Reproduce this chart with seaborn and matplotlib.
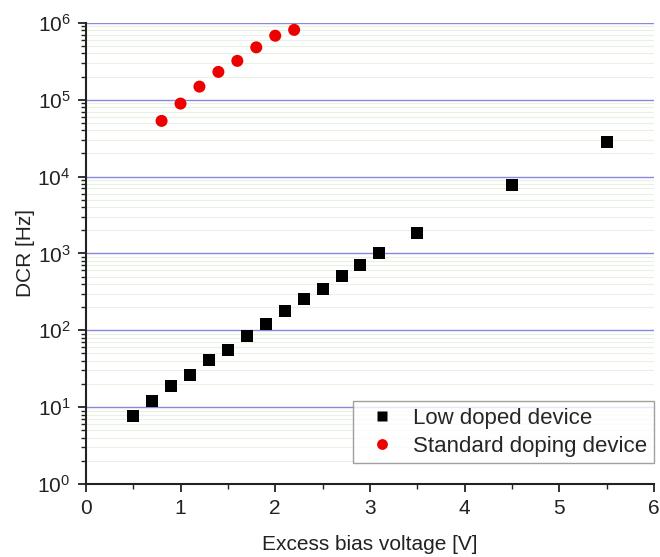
import matplotlib
matplotlib.use("Agg")
import matplotlib.pyplot as plt
import seaborn as sns
import pandas as pd
import numpy as np
from matplotlib.ticker import LogLocator, MultipleLocator, NullFormatter

low_x = [0.5, 0.7, 0.9, 1.1, 1.3, 1.5, 1.7, 1.9, 2.1, 2.3, 2.5, 2.7, 2.9, 3.1, 3.5, 4.5, 5.5]
low_y = [7.7, 12.0, 19, 26, 41, 56, 85, 121, 179, 257, 346, 510, 710, 1000, 1860, 7800, 28000]
std_x = [0.8, 1.0, 1.2, 1.4, 1.6, 1.8, 2.0, 2.2]
std_y = [53000, 89000, 148000, 230000, 320000, 480000, 680000, 810000]
series_names = ["Low doped device", "Standard doping device"]

df = pd.DataFrame({
    "x": low_x + std_x,
    "y": low_y + std_y,
    "series": [series_names[0]] * len(low_x) + [series_names[1]] * len(std_x),
})

sns.set_style("white")
plt.rcParams["font.family"] = ["Liberation Sans", "DejaVu Sans"]

fig = plt.figure(figsize=(6.6, 5.57), dpi=100)
ax = fig.add_axes([0.13, 0.131, 0.861, 0.828])

ax.set_yscale("log")
ax.set_ylim(1, 1e6)
ax.set_xlim(0, 6)

ax.yaxis.set_major_locator(LogLocator(base=10, numticks=10))
ax.yaxis.set_minor_locator(LogLocator(base=10, subs=np.arange(2, 10), numticks=20))
ax.yaxis.set_minor_formatter(NullFormatter())
ax.xaxis.set_major_locator(MultipleLocator(1))
ax.xaxis.set_minor_locator(MultipleLocator(0.5))

ax.grid(True, which="minor", axis="y", color="#e8f2e0", linewidth=0.8)
ax.grid(True, which="major", axis="y", color="#8888dd", linewidth=1.0)
ax.set_axisbelow(True)

sns.scatterplot(data=df, x="x", y="y", hue="series", style="series",
                palette={series_names[0]: "black", series_names[1]: "#ee0000"},
                markers={series_names[0]: "s", series_names[1]: "o"},
                s=75, edgecolor="none", ax=ax, zorder=3, legend=True)

for side in ["top", "right"]:
    ax.spines[side].set_visible(False)
for side in ["left", "bottom"]:
    ax.spines[side].set_color("#222222")
    ax.spines[side].set_linewidth(1.5)

ax.tick_params(axis="both", which="major", direction="out", length=6, width=1.3,
               labelsize=15, colors="#222222", left=True, bottom=True, pad=5)
ax.tick_params(axis="both", which="minor", direction="out", length=3.5, width=1.0,
               colors="#222222", left=True, bottom=True)

ax.set_xlabel("Excess bias voltage [V]", fontsize=15, color="#222222", labelpad=12)
ax.set_ylabel("DCR [Hz]", fontsize=15, color="#222222", labelpad=2)

handles, labels = ax.get_legend_handles_labels()
leg = ax.legend(handles, labels, loc="lower right", fontsize=16, frameon=True,
                fancybox=False, edgecolor="#888888", handletextpad=0.4,
                borderpad=0.3, labelspacing=0.3, borderaxespad=0,
                bbox_to_anchor=(1.0, 0.045), markerscale=0.9)
leg.get_frame().set_linewidth(1.0)

fig.savefig("out.png", dpi=100)
